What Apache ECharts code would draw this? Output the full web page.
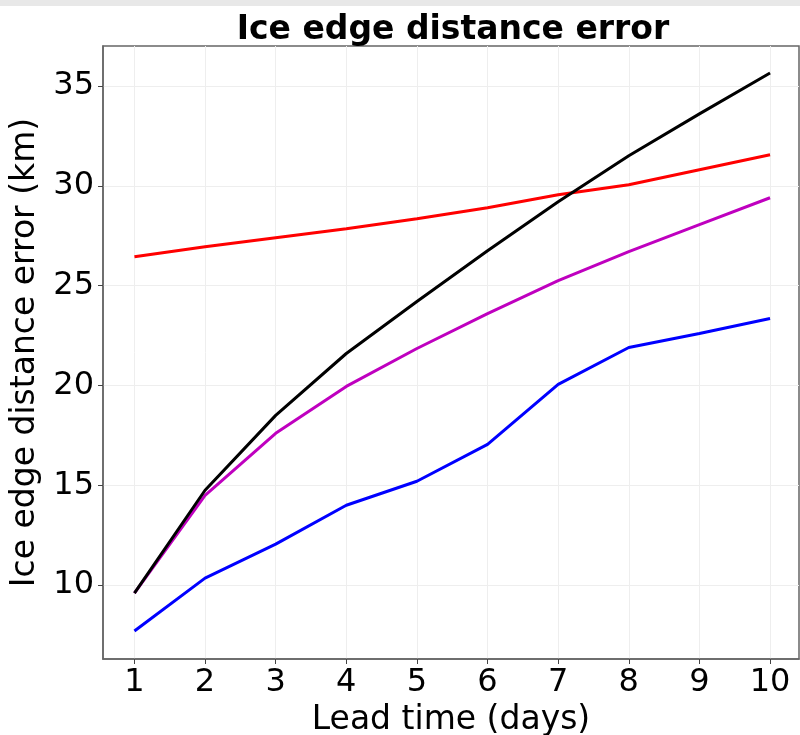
<!DOCTYPE html>
<html>
<head>
	<meta charset="utf-8">
	<title>Ice edge distance error</title>
	<style>
		html, body { margin: 0; padding: 0; background: #fff; }
		#main { width: 800px; height: 735px; }
	</style>
</head>
<body>
	<div id="main"></div>
<script type="text/javascript" src="https://cdn.jsdelivr.net/npm/echarts@6/dist/echarts.min.js"></script>
<script type="text/javascript">
	// lead time (days)
	var leadDays = [1, 2, 3, 4, 5, 6, 7, 8, 9, 10];
	// ice edge distance error (km)
	var blackErr = [9.6, 14.75, 18.5, 21.6, 24.2, 26.75, 29.2, 31.5, 33.6, 35.65];
	var redErr = [26.45, 26.95, 27.4, 27.85, 28.35, 28.9, 29.55, 30.05, 30.8, 31.55];
	var magentaErr = [9.6, 14.5, 17.6, 19.95, 21.85, 23.6, 25.25, 26.7, 28.05, 29.4];
	var blueErr = [7.7, 10.35, 12.05, 14.0, 15.2, 17.05, 20.05, 21.9, 22.6, 23.35];
	var yTicks = [10, 15, 20, 25, 30, 35];

	function pairs(vals){
		var out = [];
		for(var i=0;i<leadDays.length;i++){
			out.push([leadDays[i], vals[i]]);
		}
		return out;
	}

	function lineSeries(name, vals, color){
		return {
			name: name,
			type: 'line',
			data: pairs(vals),
			showSymbol: false,
			symbol: 'none',
			lineStyle: { color: color, width: 3 },
			animation: false
		};
	}

	var myChart = echarts.init(document.getElementById('main'));
	var font = 'DejaVu Sans';
	var option = {
		backgroundColor: '#fff',
		animation: false,
		title: {
			text: 'Ice edge distance error',
			left: 448,
			top: 9,
			textAlign: 'center',
			textStyle: { fontFamily: font, fontWeight: 'bold', fontSize: 33, color: '#000' }
		},
		grid: {
			left: 103,
			top: 46,
			right: 1,
			bottom: 76,
			outerBoundsMode: 'none',
			containLabel: false,
			show: true,
			borderColor: '#666',
			borderWidth: 1.5
		},
		xAxis: {
			type: 'value',
			min: 0.555,
			max: 10.41,
			name: 'Lead time (days)',
			nameLocation: 'middle',
			nameGap: 44,
			nameTextStyle: { fontFamily: font, fontSize: 33, color: '#000' },
			axisLine: { show: true, lineStyle: { color: '#666', width: 1.5 } },
			axisTick: { show: true, length: 5, lineStyle: { color: '#444' }, customValues: leadDays },
			axisLabel: { fontFamily: font, fontSize: 32, color: '#000', margin: 8, customValues: leadDays },
			splitLine: { show: true, lineStyle: { color: '#eeeeee', width: 1 } }
		},
		yAxis: {
			type: 'value',
			min: 6.3,
			max: 37.0,
			name: 'Ice edge distance error (km)',
			nameLocation: 'middle',
			nameGap: 52,
			nameTextStyle: { fontFamily: font, fontSize: 33, color: '#000' },
			axisLine: { show: true, lineStyle: { color: '#666', width: 1.5 } },
			axisTick: { show: true, length: 5, lineStyle: { color: '#444' }, customValues: yTicks },
			axisLabel: { fontFamily: font, fontSize: 32, color: '#000', margin: 9, customValues: yTicks },
			splitLine: { show: true, lineStyle: { color: '#eeeeee', width: 1 } }
		},
		graphic: [
			{
				type: 'rect',
				left: 0,
				top: 0,
				shape: { width: 800, height: 6 },
				style: { fill: '#e8e8e8' },
				silent: true
			}
		],
		series: [
			lineSeries('blue', blueErr, '#0000ff'),
			lineSeries('magenta', magentaErr, '#bf00bf'),
			lineSeries('red', redErr, '#ff0000'),
			lineSeries('black', blackErr, '#000000')
		]
	};
	myChart.setOption(option);
</script>
</body>
</html>
